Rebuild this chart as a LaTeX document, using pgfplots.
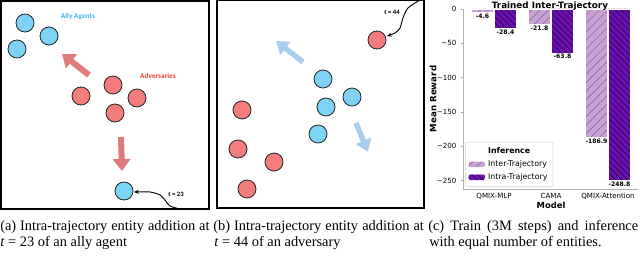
\documentclass[border=0pt]{standalone}
\usepackage{fontspec}
\setmainfont{Liberation Serif}
\newfontfamily\dejavu{DejaVu Sans}
\newfontfamily\carlito{Carlito}
\usepackage{pgfplots}
\pgfplotsset{compat=1.18}
\usetikzlibrary{arrows.meta,patterns.meta}

\definecolor{allyblue}{RGB}{125,211,245}
\definecolor{advred}{RGB}{244,124,124}
\definecolor{arrowred}{RGB}{222,122,122}
\definecolor{arrowblue}{RGB}{168,204,236}
\definecolor{allytext}{RGB}{60,180,240}
\definecolor{advtext}{RGB}{240,60,60}
\definecolor{lilac}{RGB}{200,162,210}
\definecolor{purp}{RGB}{106,16,176}
\definecolor{lilachatch}{RGB}{130,90,150}
\definecolor{purphatch}{RGB}{30,0,50}

\pgfplotsset{
  illus/.style={scale only axis, axis line style={black, line width=0.8pt},
    xtick=\empty, ytick=\empty, y dir=reverse, clip=false, anchor=south west},
  ally/.style={only marks, mark=*, mark size=6.75pt,
    mark options={fill=allyblue, draw=black!85, line width=0.6pt}},
  adv/.style={only marks, mark=*, mark size=6.75pt,
    mark options={fill=advred, draw=black!85, line width=0.6pt}},
}

\begin{document}
\begin{tikzpicture}
\useasboundingbox (0,0) rectangle (480pt,-202.5pt);

% ---------- panel (a) ----------
\begin{axis}[illus, at={(0.75pt,-156.75pt)}, width=156pt, height=156pt,
  xmin=1, xmax=209, ymin=1, ymax=209]
\addplot[arrowred, line width=4.5pt, -{Triangle[width=13pt,length=9pt]}] coordinates {(89,75) (62,54)};
\addplot[arrowred, line width=4.5pt, -{Triangle[width=13pt,length=9pt]}] coordinates {(121,137) (122,171)};
\addplot[ally] coordinates {(25,23) (49,36) (17,49) (124,191)};
\addplot[adv] coordinates {(113,85) (81,96) (137,98) (115,113)};
\addplot[black, line width=0.7pt, smooth, -{Stealth[length=3.5pt,width=3pt]}]
  coordinates {(180,209) (170,206) (165,200) (160,195) (150,192) (134,192)};
\node[font=\carlito\bfseries\fontsize{5.5}{6}\selectfont, text=allytext] at (axis cs:78,17) {Ally Agents};
\node[font=\carlito\bfseries\fontsize{5.5}{6}\selectfont, text=advtext] at (axis cs:158,76) {Adversaries};
\node[font=\carlito\bfseries\fontsize{5}{6}\selectfont] at (axis cs:176,194) {t = 23};
\end{axis}

% ---------- panel (b) ----------
\begin{axis}[illus, at={(162.75pt,-156pt)}, width=155.25pt, height=156pt,
  xmin=217, xmax=424, ymin=0, ymax=208]
\addplot[arrowblue, line width=4pt, -{Triangle[width=12pt,length=9pt]}] coordinates {(303,62) (276,41)};
\addplot[arrowblue, line width=4pt, -{Triangle[width=12pt,length=9pt]}] coordinates {(356,123) (368,152)};
\addplot[ally] coordinates {(323,79) (352,97) (326,107) (318,134)};
\addplot[adv] coordinates {(377,40) (242,110) (238,149) (274,162) (247,189)};
\addplot[black, line width=0.7pt, smooth, -{Stealth[length=3.5pt,width=3pt]}]
  coordinates {(420,0) (408,8) (403,18) (400,28) (395,33) (387,36)};
\node[font=\carlito\bfseries\fontsize{5}{6}\selectfont] at (axis cs:392,12) {t = 44};
\end{axis}

% ---------- panel (c) ----------
\begin{axis}[
  at={(347.25pt,-141.75pt)}, anchor=south west,
  scale only axis, width=131.25pt, height=135pt,
  xmin=-0.544, xmax=2.526, ymin=-262, ymax=0,
  ybar=0.75pt, bar width=16.5pt,
  axis x line*=bottom, axis y line*=left,
  axis line style={gray!60, line width=0.5pt},
  xtick={0,1,2}, xticklabels={QMIX-MLP,CAMA,QMIX-Attention},
  ytick={0,-50,-100,-150,-200,-250},
  yticklabels={0,−50,−100,−150,−200,−250},
  tick label style={font=\dejavu\fontsize{5.3}{6}\selectfont},
  xticklabel style={yshift=1.8pt},
  xtick style={draw=none}, ytick style={gray!70, line width=0.4pt},
  major tick length=1.5pt, tick align=outside,
  xlabel={Model},
  xlabel style={font=\dejavu\bfseries\fontsize{6.3}{7}\selectfont, at={(axis description cs:0.503,-0.108)}, anchor=base},
  ylabel={Mean Reward},
  ylabel style={font=\dejavu\bfseries\fontsize{6.5}{7}\selectfont, at={(axis description cs:-0.171,0.5)}, anchor=center},
  clip=false,
  nodes near coords={\pgfmathprintnumber[fixed,fixed zerofill,precision=1,assume math mode=true]{\pgfplotspointmeta}},
  nodes near coords style={font=\dejavu\bfseries\fontsize{4.6}{5}\selectfont, inner sep=1pt},
  legend image code/.code={\draw[#1] (0pt,-2.3pt) rectangle (12.75pt,2.3pt);},
  legend style={at={(0.012,0.012)}, anchor=south west,
    font=\dejavu\fontsize{5.9}{7}\selectfont, draw=gray!35, rounded corners=1.5pt,
    cells={anchor=west}, row sep=-0.3pt, inner sep=2pt},
  legend entries={\textbf{Inference},Inter-Trajectory,Intra-Trajectory},
]
\addlegendimage{empty legend}
\addplot[fill=lilac, draw=white, line width=0.3pt,
  postaction={pattern={Lines[angle=45,distance=4.5pt,line width=0.35pt]}, pattern color=lilachatch}]
  coordinates {(0,-4.6) (1,-21.8) (2,-186.9)};
\addplot[fill=purp, draw=white, line width=0.3pt,
  postaction={pattern={Lines[angle=-45,distance=3.2pt,line width=0.35pt]}, pattern color=purphatch}]
  coordinates {(0,-28.4) (1,-63.8) (2,-248.8)};
\node[font=\dejavu\bfseries\fontsize{6.6}{7}\selectfont, anchor=base, inner sep=0pt]
  at (axis description cs:0.497,1.005) {Trained Inter-Trajectory};
\end{axis}

% ---------- captions ----------
\begin{scope}[every node/.style={anchor=base west, inner sep=0pt, font=\fontsize{10.8}{12}\selectfont}]
\node at (0pt,-173.25pt) {\makebox[157pt][s]{(a) Intra-trajectory entity addition at}};
\node at (0pt,-185.25pt) {\textit{t} = 23 of an ally agent};
\node at (159.75pt,-173.25pt) {\makebox[158pt][s]{(b) Intra-trajectory entity addition at}};
\node at (160.5pt,-185.25pt) {\textit{t} = 44 of an adversary};
\node at (321pt,-173.25pt) {\makebox[157.5pt][s]{(c) Train (3M steps) and inference}};
\node at (321.75pt,-185.25pt) {with equal number of entities.};
\end{scope}
\end{tikzpicture}
\end{document}
